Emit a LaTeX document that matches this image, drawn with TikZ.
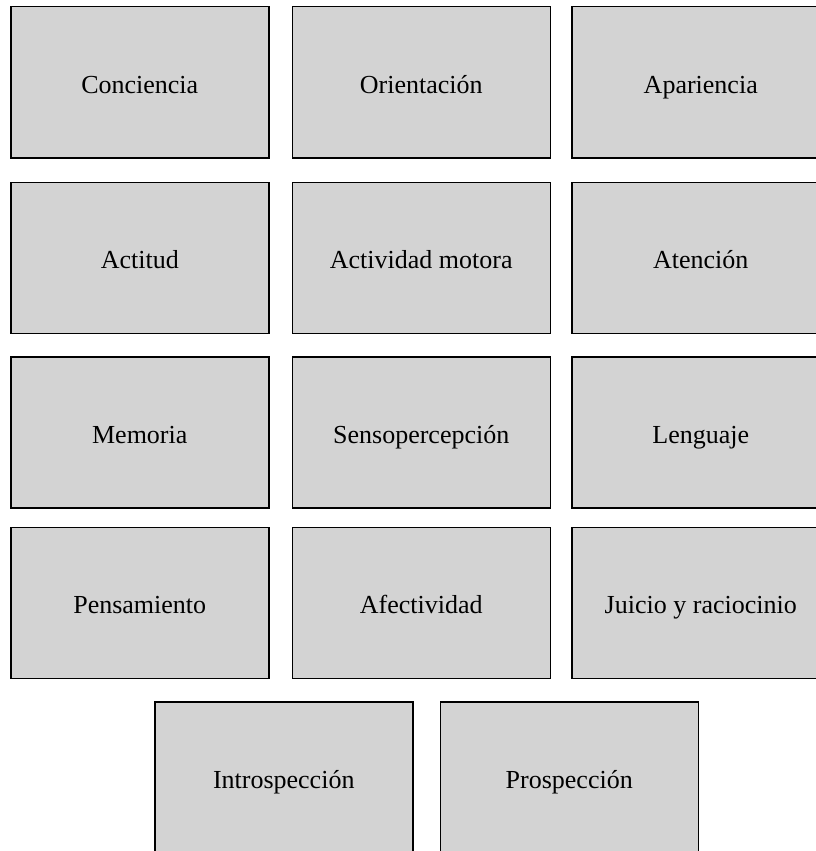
\documentclass[tikz,border=0pt]{standalone}
\usepackage{fontspec}
\setmainfont{Liberation Serif}
\usepackage{tikz}
\usetikzlibrary{positioning}
\usepackage{xcolor}
\definecolor{boxgray}{HTML}{D3D3D3}
\tikzset{
  itembox/.style={
    rectangle, draw=black, fill=boxgray, line width=1.5pt,
    minimum width=258pt, minimum height=151pt,
    inner sep=0pt, align=center,
    text height=22pt, text depth=0pt,
    font=\fontsize{26}{30}\selectfont
  }
}

\begin{document}
\begin{tikzpicture}

\useasboundingbox (0,0) rectangle (815pt,-851pt);

% ── Row 1 ───────────────────────────────────────────────────
\node[itembox, anchor=north west] (conc) at (10pt,-6pt) {Conciencia};
\node[itembox, right=22pt of conc] (orient) {Orientación};
\node[itembox, right=20pt of orient] (apar) {Apariencia};

% ── Row 2 ───────────────────────────────────────────────────
\node[itembox, below=23pt of conc] (actit) {Actitud};
\node[itembox, right=22pt of actit] (motora) {Actividad motora};
\node[itembox, right=20pt of motora] (atenc) {Atención};

% ── Row 3 ───────────────────────────────────────────────────
\node[itembox, below=22pt of actit] (memor) {Memoria};
\node[itembox, right=22pt of memor] (senso) {Sensopercepción};
\node[itembox, right=20pt of senso] (lengu) {Lenguaje};

% ── Row 4 ───────────────────────────────────────────────────
\node[itembox, below=18pt of memor] (pensa) {Pensamiento};
\node[itembox, right=22pt of pensa] (afect) {Afectividad};
\node[itembox, right=20pt of afect] (juicio) {Juicio y raciocinio};

% ── Row 5 ───────────────────────────────────────────────────
\node[itembox, anchor=north west] (intro) at (154pt,-701pt) {Introspección};
\node[itembox, right=26pt of intro] (prosp) {Prospección};

\end{tikzpicture}
\end{document}
